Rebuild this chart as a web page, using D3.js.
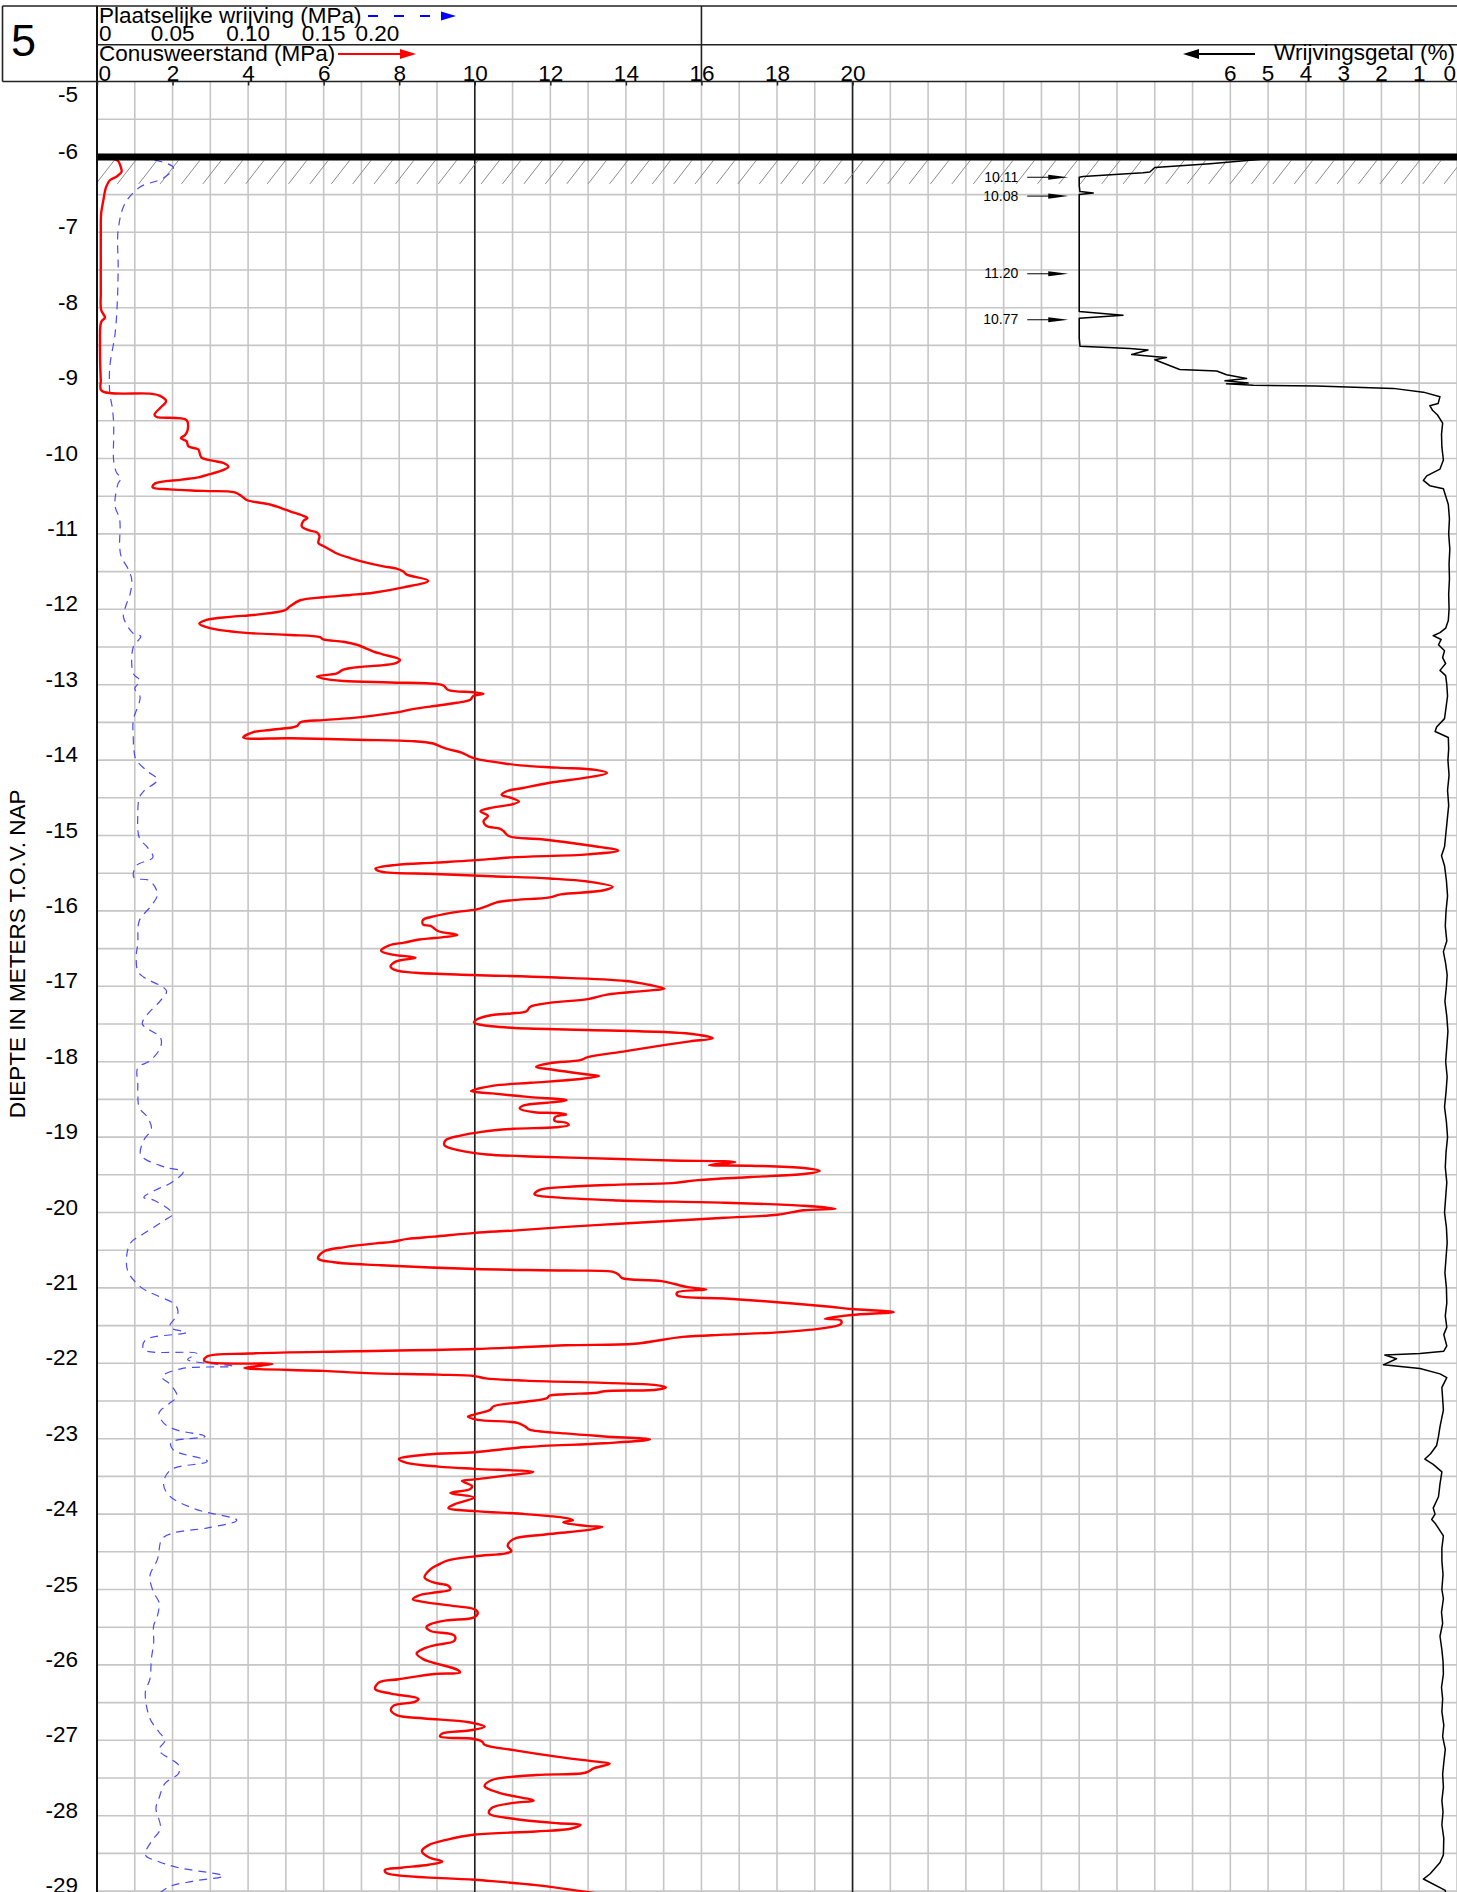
<!DOCTYPE html>
<html>
<head>
<meta charset="utf-8">
<script src="https://cdn.jsdelivr.net/npm/d3@7/dist/d3.min.js"></script>
<style>
  html, body { margin: 0; padding: 0; background: #fff; }
  svg { display: block; }
  text { font-family: "Liberation Sans", Arial, Helvetica, sans-serif; fill: #000; }
</style>
</head>
<body>
<svg id="chart" width="1457" height="1892"></svg>
<script>
// Sondering 5: conusweerstand, plaatselijke wrijving en wrijvingsgetal tegen diepte (m t.o.v. NAP)

const depthTicks = [-5, -6, -7, -8, -9, -10, -11, -12, -13, -14, -15, -16, -17, -18, -19, -20,
  -21, -22, -23, -24, -25, -26, -27, -28, -29];
const coneTicks = [0, 2, 4, 6, 8, 10, 12, 14, 16, 18, 20];
const frictionTicks = [0, 0.05, 0.10, 0.15, 0.20];
const ratioTicks = [6, 5, 4, 3, 2, 1, 0];

const groundLevel = -6.0;

// [diepte (m NAP), conusweerstand qc (MPa)]
const coneResistance = [
  [-6.00, 0.00], [-6.02, 0.40], [-6.05, 0.55], [-6.12, 0.62], [-6.20, 0.65], [-6.26, 0.52],
  [-6.31, 0.34], [-6.40, 0.24], [-6.57, 0.17], [-6.75, 0.11], [-7.00, 0.10], [-7.40, 0.10],
  [-7.80, 0.10], [-8.03, 0.11], [-8.13, 0.21], [-8.19, 0.11], [-8.50, 0.08], [-8.96, 0.10],
  [-9.10, 0.12], [-9.14, 1.40], [-9.17, 1.67], [-9.24, 1.83], [-9.33, 1.67], [-9.42, 1.52],
  [-9.45, 1.58], [-9.49, 2.37], [-9.62, 2.40], [-9.69, 2.33], [-9.73, 2.22], [-9.77, 2.37],
  [-9.84, 2.42], [-9.88, 2.68], [-9.95, 2.73], [-9.99, 2.77], [-10.04, 3.17], [-10.06, 3.35],
  [-10.11, 3.48], [-10.15, 3.35], [-10.22, 2.90], [-10.25, 2.68], [-10.28, 2.24], [-10.33, 1.54],
  [-10.38, 1.47], [-10.41, 1.93], [-10.43, 2.82], [-10.45, 3.65], [-10.50, 3.83], [-10.55, 3.96],
  [-10.61, 4.58], [-10.66, 4.89], [-10.70, 5.11], [-10.76, 5.46], [-10.79, 5.57], [-10.83, 5.46],
  [-10.90, 5.42], [-10.95, 5.60], [-10.98, 5.82], [-11.03, 5.89], [-11.12, 5.86], [-11.16, 5.99],
  [-11.21, 6.17], [-11.26, 6.35], [-11.32, 6.70], [-11.37, 7.05], [-11.43, 7.58], [-11.46, 7.93],
  [-11.50, 8.11], [-11.54, 8.20], [-11.62, 8.77], [-11.71, 8.11], [-11.78, 7.32], [-11.81, 6.70],
  [-11.84, 5.99], [-11.88, 5.38], [-11.96, 5.11], [-12.01, 4.98], [-12.07, 4.23], [-12.10, 3.52],
  [-12.14, 2.90], [-12.19, 2.71], [-12.25, 2.99], [-12.31, 3.87], [-12.34, 5.11], [-12.37, 5.90],
  [-12.40, 5.99], [-12.43, 6.52], [-12.47, 6.88], [-12.56, 7.32], [-12.60, 7.58], [-12.67, 8.02],
  [-12.71, 7.93], [-12.74, 7.58], [-12.76, 7.05], [-12.80, 6.52], [-12.85, 6.35], [-12.89, 5.82],
  [-12.92, 5.99], [-12.95, 6.52], [-12.97, 7.76], [-12.99, 8.99], [-13.01, 9.17], [-13.07, 9.30],
  [-13.10, 9.96], [-13.12, 10.23], [-13.15, 9.96], [-13.20, 9.88], [-13.24, 9.52], [-13.29, 8.82],
  [-13.33, 8.29], [-13.36, 8.02], [-13.41, 7.32], [-13.44, 6.79], [-13.47, 5.99], [-13.50, 5.38],
  [-13.55, 5.29], [-13.60, 4.58], [-13.63, 4.14], [-13.70, 3.87], [-13.71, 5.11], [-13.73, 6.88],
  [-13.75, 8.40], [-13.78, 8.90], [-13.82, 9.10], [-13.86, 9.34], [-13.90, 9.65], [-13.95, 9.85],
  [-13.99, 10.10], [-14.03, 10.60], [-14.07, 11.20], [-14.10, 12.20], [-14.13, 13.20], [-14.17, 13.50],
  [-14.23, 12.99], [-14.30, 11.98], [-14.37, 11.27], [-14.41, 10.86], [-14.46, 10.71], [-14.50, 10.96],
  [-14.55, 11.17], [-14.59, 10.96], [-14.63, 10.46], [-14.68, 10.15], [-14.74, 10.35], [-14.81, 10.23],
  [-14.87, 10.30], [-14.91, 10.66], [-14.94, 10.76], [-15.01, 10.91], [-15.05, 11.77], [-15.13, 12.99],
  [-15.20, 13.80], [-15.25, 12.99], [-15.29, 10.96], [-15.33, 9.95], [-15.36, 8.94], [-15.39, 7.92],
  [-15.44, 7.37], [-15.48, 7.52], [-15.51, 8.94], [-15.54, 10.46], [-15.57, 11.98], [-15.61, 12.99],
  [-15.68, 13.65], [-15.73, 13.39], [-15.78, 12.28], [-15.82, 11.98], [-15.86, 10.96], [-15.89, 10.56],
  [-15.93, 10.35], [-15.98, 10.05], [-16.02, 9.44], [-16.07, 8.94], [-16.12, 8.63], [-16.18, 8.63],
  [-16.20, 8.83], [-16.27, 9.04], [-16.32, 9.54], [-16.36, 8.94], [-16.38, 8.53], [-16.42, 8.13],
  [-16.46, 7.72], [-16.53, 7.52], [-16.58, 7.82], [-16.62, 8.43], [-16.67, 7.92], [-16.74, 7.77],
  [-16.79, 7.92], [-16.82, 8.43], [-16.85, 9.95], [-16.88, 11.98], [-16.93, 14.00], [-16.98, 14.61],
  [-17.03, 15.02], [-17.06, 14.51], [-17.11, 13.50], [-17.17, 12.99], [-17.22, 11.98], [-17.27, 11.47],
  [-17.33, 11.37], [-17.36, 10.96], [-17.38, 10.46], [-17.44, 10.05], [-17.48, 9.98], [-17.51, 10.15],
  [-17.55, 10.96], [-17.58, 12.99], [-17.63, 15.70], [-17.69, 16.30], [-17.73, 15.70], [-17.78, 15.00],
  [-17.86, 14.00], [-17.94, 12.99], [-17.98, 12.79], [-18.02, 11.98], [-18.07, 11.62], [-18.10, 11.98],
  [-18.17, 12.99], [-18.19, 13.29], [-18.23, 12.79], [-18.28, 11.47], [-18.32, 10.46], [-18.39, 9.90],
  [-18.42, 10.46], [-18.47, 11.47], [-18.51, 12.43], [-18.54, 12.00], [-18.58, 11.30], [-18.62, 11.19],
  [-18.67, 11.58], [-18.68, 12.14], [-18.70, 12.42], [-18.73, 12.14], [-18.78, 12.11], [-18.81, 12.42],
  [-18.84, 12.49], [-18.87, 12.14], [-18.89, 11.02], [-18.93, 10.18], [-18.98, 9.62], [-19.04, 9.23],
  [-19.11, 9.20], [-19.18, 9.62], [-19.23, 10.32], [-19.26, 11.72], [-19.29, 13.82], [-19.31, 15.22],
  [-19.33, 16.90], [-19.37, 16.20], [-19.38, 17.31], [-19.41, 18.71], [-19.45, 19.13], [-19.49, 18.71],
  [-19.53, 17.31], [-19.57, 15.92], [-19.61, 15.22], [-19.63, 13.82], [-19.66, 12.42], [-19.70, 11.72],
  [-19.76, 11.58], [-19.80, 12.14], [-19.84, 13.82], [-19.87, 16.62], [-19.91, 18.71], [-19.95, 19.55],
  [-19.97, 18.71], [-20.03, 18.01], [-20.07, 16.62], [-20.11, 15.22], [-20.15, 13.82], [-20.19, 12.42],
  [-20.24, 11.02], [-20.27, 10.00], [-20.32, 8.92], [-20.35, 8.22], [-20.39, 7.80], [-20.41, 7.38],
  [-20.46, 6.55], [-20.52, 5.99], [-20.61, 5.85], [-20.66, 6.27], [-20.70, 7.52], [-20.75, 10.00],
  [-20.77, 12.42], [-20.79, 13.68], [-20.83, 13.82], [-20.87, 13.90], [-20.91, 14.94], [-20.99, 15.64],
  [-21.02, 16.13], [-21.06, 15.36], [-21.10, 15.36], [-21.14, 16.62], [-21.19, 18.01], [-21.25, 19.41],
  [-21.28, 19.97], [-21.32, 21.09], [-21.36, 19.97], [-21.41, 19.27], [-21.43, 19.69], [-21.48, 19.69],
  [-21.54, 19.13], [-21.59, 18.01], [-21.62, 16.62], [-21.65, 15.50], [-21.74, 14.24], [-21.76, 12.42],
  [-21.81, 10.00], [-21.84, 6.83], [-21.87, 4.03], [-21.91, 2.91], [-21.97, 2.84], [-22.01, 4.65],
  [-22.06, 3.90], [-22.10, 6.00], [-22.13, 7.15], [-22.15, 9.04], [-22.17, 10.00], [-22.20, 10.29],
  [-22.23, 11.34], [-22.26, 13.43], [-22.29, 14.80], [-22.32, 15.06], [-22.35, 14.80], [-22.37, 13.43],
  [-22.39, 13.23], [-22.41, 12.39], [-22.43, 11.97], [-22.46, 11.92], [-22.51, 11.34], [-22.57, 10.50],
  [-22.62, 10.40], [-22.68, 9.98], [-22.71, 9.82], [-22.75, 10.08], [-22.79, 11.13], [-22.84, 11.34],
  [-22.88, 11.45], [-22.93, 12.39], [-22.97, 13.43], [-23.01, 14.64], [-23.06, 13.43], [-23.11, 11.34],
  [-23.18, 10.00], [-23.21, 8.72], [-23.27, 7.99], [-23.32, 8.20], [-23.37, 9.04], [-23.40, 10.00],
  [-23.44, 11.55], [-23.49, 10.82], [-23.54, 10.00], [-23.56, 9.66], [-23.63, 9.93], [-23.67, 9.87],
  [-23.72, 9.35], [-23.78, 9.98], [-23.87, 9.46], [-23.92, 9.30], [-23.96, 10.00], [-24.00, 11.34],
  [-24.05, 12.39], [-24.08, 12.60], [-24.11, 12.34], [-24.16, 13.02], [-24.17, 13.38], [-24.21, 13.02],
  [-24.27, 11.86], [-24.33, 11.03], [-24.42, 10.87], [-24.49, 10.97], [-24.52, 10.82], [-24.56, 10.00],
  [-24.62, 9.25], [-24.67, 9.04], [-24.73, 8.83], [-24.84, 8.67], [-24.91, 8.93], [-24.95, 9.30],
  [-25.00, 9.35], [-25.04, 8.93], [-25.08, 8.51], [-25.13, 8.36], [-25.17, 8.72], [-25.22, 9.46],
  [-25.26, 9.98], [-25.31, 10.08], [-25.37, 9.98], [-25.41, 9.25], [-25.46, 8.83], [-25.50, 8.72],
  [-25.55, 8.83], [-25.61, 9.46], [-25.68, 9.46], [-25.74, 8.93], [-25.79, 8.62], [-25.85, 8.46],
  [-25.92, 8.62], [-25.96, 8.83], [-26.07, 9.56], [-26.10, 9.61], [-26.12, 8.93], [-26.19, 7.99],
  [-26.23, 7.47], [-26.32, 7.36], [-26.38, 7.78], [-26.45, 8.51], [-26.49, 8.41], [-26.54, 7.85],
  [-26.60, 7.78], [-26.67, 7.95], [-26.71, 8.66], [-26.76, 9.85], [-26.82, 10.26], [-26.87, 9.85],
  [-26.91, 9.14], [-26.95, 9.08], [-26.98, 9.96], [-27.02, 10.20], [-27.06, 10.26], [-27.13, 11.03],
  [-27.22, 12.21], [-27.28, 13.16], [-27.31, 13.57], [-27.37, 13.16], [-27.43, 12.92], [-27.46, 11.62],
  [-27.53, 10.44], [-27.61, 10.26], [-27.70, 10.67], [-27.80, 11.56], [-27.83, 11.03], [-27.90, 10.44],
  [-27.97, 10.38], [-28.04, 11.03], [-28.10, 12.21], [-28.12, 12.80], [-28.17, 12.56], [-28.21, 11.62],
  [-28.25, 10.00], [-28.32, 9.25], [-28.39, 8.78], [-28.47, 8.60], [-28.55, 8.78], [-28.61, 9.14],
  [-28.65, 8.78], [-28.69, 8.07], [-28.72, 7.62], [-28.76, 7.66], [-28.85, 10.00], [-28.92, 11.62],
  [-29.05, 13.50]
];

// [diepte (m NAP), plaatselijke wrijving fs (MPa)]
const localFriction = [
  [-6.00, 0.029], [-6.14, 0.0505], [-6.28, 0.044], [-6.40, 0.0285], [-6.62, 0.0185], [-6.97, 0.014],
  [-7.46, 0.014], [-7.90, 0.0135], [-8.34, 0.012], [-8.78, 0.0085], [-9.14, 0.0085], [-9.31, 0.010],
  [-9.53, 0.011], [-9.75, 0.011], [-10.02, 0.011], [-10.19, 0.013], [-10.26, 0.016], [-10.33, 0.014],
  [-10.53, 0.012], [-10.64, 0.012], [-10.81, 0.015], [-11.17, 0.015], [-11.30, 0.016], [-11.48, 0.021],
  [-11.61, 0.023], [-11.79, 0.022], [-11.96, 0.019], [-12.10, 0.0175], [-12.32, 0.024], [-12.36, 0.029],
  [-12.50, 0.024], [-12.85, 0.024], [-12.95, 0.0285], [-13.05, 0.025], [-13.16, 0.0285], [-13.47, 0.024],
  [-13.70, 0.024], [-13.88, 0.0245], [-14.00, 0.026], [-14.15, 0.0335], [-14.26, 0.040], [-14.41, 0.031],
  [-14.50, 0.028], [-14.72, 0.027], [-15.03, 0.028], [-15.16, 0.0335], [-15.29, 0.037], [-15.40, 0.026],
  [-15.56, 0.0245], [-15.60, 0.035], [-15.78, 0.040], [-15.93, 0.036], [-16.13, 0.028], [-16.44, 0.027],
  [-16.58, 0.026], [-16.80, 0.027], [-16.88, 0.031], [-17.06, 0.046], [-17.19, 0.042], [-17.37, 0.0335],
  [-17.50, 0.030], [-17.68, 0.042], [-17.81, 0.042], [-17.99, 0.035], [-18.08, 0.027], [-18.30, 0.027],
  [-18.43, 0.027], [-18.61, 0.028], [-18.74, 0.0335], [-18.89, 0.036], [-19.04, 0.031], [-19.24, 0.029],
  [-19.40, 0.045], [-19.46, 0.057], [-19.62, 0.048], [-19.68, 0.041], [-19.80, 0.031], [-19.84, 0.038],
  [-20.02, 0.050], [-20.10, 0.045], [-20.28, 0.031], [-20.41, 0.022], [-20.75, 0.020], [-20.99, 0.029],
  [-21.23, 0.052], [-21.34, 0.0535], [-21.52, 0.048], [-21.59, 0.059], [-21.69, 0.032], [-21.82, 0.031],
  [-21.87, 0.066], [-21.95, 0.060], [-22.04, 0.090], [-22.07, 0.056], [-22.18, 0.043], [-22.29, 0.049],
  [-22.44, 0.053], [-22.53, 0.048], [-22.66, 0.041], [-22.79, 0.044], [-22.88, 0.052], [-22.97, 0.0715],
  [-23.05, 0.049], [-23.15, 0.0505], [-23.30, 0.073], [-23.41, 0.049], [-23.59, 0.044], [-23.76, 0.048],
  [-23.94, 0.066], [-24.08, 0.0925], [-24.18, 0.074], [-24.25, 0.0505], [-24.33, 0.043], [-24.60, 0.040],
  [-24.82, 0.035], [-25.04, 0.0375], [-25.17, 0.041], [-25.35, 0.040], [-25.48, 0.0375], [-25.70, 0.0375],
  [-25.92, 0.036], [-26.19, 0.035], [-26.36, 0.032], [-26.71, 0.035], [-26.89, 0.041], [-27.00, 0.045],
  [-27.13, 0.041], [-27.33, 0.054], [-27.44, 0.054], [-27.57, 0.045], [-27.77, 0.041], [-27.90, 0.039],
  [-28.17, 0.042], [-28.34, 0.036], [-28.52, 0.032], [-28.61, 0.041], [-28.69, 0.054], [-28.80, 0.0835],
  [-28.87, 0.063], [-28.94, 0.048], [-29.05, 0.040]
];

// [diepte (m NAP), wrijvingsgetal Rf (%)]
const frictionRatio = [
  [-6.02, 4.95], [-6.09, 6.54], [-6.14, 8.00], [-6.20, 8.13], [-6.21, 8.31], [-6.26, 9.90],
  [-6.27, 10.11], [-6.38, 10.05], [-6.46, 9.98], [-6.48, 9.63], [-6.50, 10.02], [-6.52, 10.08],
  [-7.00, 10.60], [-7.55, 11.20], [-8.00, 10.40], [-8.05, 10.05], [-8.10, 8.84], [-8.14, 10.10],
  [-8.16, 10.77], [-8.40, 10.30], [-8.51, 9.98], [-8.54, 8.66], [-8.56, 8.18], [-8.62, 8.61],
  [-8.65, 7.95], [-8.66, 7.69], [-8.69, 8.00], [-8.82, 7.34], [-8.84, 6.36], [-8.89, 6.10],
  [-8.94, 5.57], [-8.97, 6.14], [-9.00, 5.53], [-9.01, 6.10], [-9.03, 5.39], [-9.04, 3.72],
  [-9.07, 1.69], [-9.12, 0.89], [-9.18, 0.45], [-9.27, 0.50], [-9.30, 0.72], [-9.36, 0.65],
  [-9.42, 0.52], [-9.53, 0.38], [-9.68, 0.41], [-9.85, 0.40], [-10.02, 0.36], [-10.14, 0.45],
  [-10.23, 0.80], [-10.29, 0.89], [-10.36, 0.72], [-10.40, 0.36], [-10.61, 0.23], [-10.80, 0.20],
  [-11.00, 0.22], [-11.20, 0.19], [-11.40, 0.21], [-11.60, 0.20], [-11.80, 0.22], [-12.00, 0.21],
  [-12.15, 0.23], [-12.25, 0.30], [-12.31, 0.45], [-12.35, 0.63], [-12.40, 0.42], [-12.47, 0.49],
  [-12.55, 0.33], [-12.64, 0.38], [-12.72, 0.30], [-12.81, 0.45], [-12.88, 0.30], [-13.00, 0.27],
  [-13.15, 0.25], [-13.30, 0.29], [-13.45, 0.33], [-13.56, 0.54], [-13.62, 0.58], [-13.70, 0.23],
  [-13.85, 0.22], [-14.00, 0.24], [-14.20, 0.21], [-14.40, 0.25], [-14.60, 0.22], [-14.80, 0.26],
  [-15.00, 0.30], [-15.15, 0.33], [-15.27, 0.41], [-15.40, 0.33], [-15.60, 0.28], [-15.80, 0.25],
  [-16.00, 0.29], [-16.20, 0.31], [-16.40, 0.27], [-16.54, 0.36], [-16.70, 0.30], [-16.85, 0.26],
  [-17.00, 0.28], [-17.20, 0.32], [-17.40, 0.27], [-17.60, 0.24], [-17.80, 0.27], [-18.00, 0.30],
  [-18.20, 0.26], [-18.40, 0.29], [-18.60, 0.33], [-18.80, 0.28], [-19.00, 0.25], [-19.20, 0.29],
  [-19.40, 0.31], [-19.60, 0.27], [-19.80, 0.30], [-20.00, 0.33], [-20.20, 0.28], [-20.40, 0.26],
  [-20.60, 0.29], [-20.80, 0.32], [-21.00, 0.28], [-21.20, 0.27], [-21.37, 0.31], [-21.52, 0.27],
  [-21.62, 0.35], [-21.77, 0.27], [-21.84, 0.35], [-21.87, 0.98], [-21.89, 1.91], [-21.94, 1.60],
  [-22.02, 1.95], [-22.07, 0.98], [-22.14, 0.45], [-22.19, 0.27], [-22.32, 0.40], [-22.62, 0.36],
  [-22.84, 0.45], [-22.97, 0.49], [-23.09, 0.54], [-23.20, 0.70], [-23.27, 0.85], [-23.34, 0.63],
  [-23.44, 0.40], [-23.60, 0.45], [-23.77, 0.49], [-23.92, 0.63], [-24.00, 0.58], [-24.07, 0.67],
  [-24.12, 0.58], [-24.29, 0.36], [-24.45, 0.40], [-24.62, 0.40], [-24.80, 0.37], [-25.00, 0.40],
  [-25.12, 0.36], [-25.30, 0.41], [-25.45, 0.38], [-25.62, 0.45], [-25.80, 0.40], [-25.95, 0.37],
  [-26.12, 0.36], [-26.30, 0.41], [-26.45, 0.38], [-26.62, 0.40], [-26.80, 0.35], [-26.95, 0.38],
  [-27.12, 0.31], [-27.30, 0.35], [-27.45, 0.38], [-27.62, 0.36], [-27.80, 0.40], [-27.95, 0.37],
  [-28.12, 0.40], [-28.30, 0.35], [-28.52, 0.36], [-28.62, 0.45], [-28.77, 0.71], [-28.84, 0.89],
  [-28.99, 0.31], [-29.05, 0.30]
];

// Maxima above the 10 % plotting limit, written next to the clipped trace
const ratioPeakDepths = [-6.27, -6.52, -7.55, -8.16];
const ratioPeakValues = [10.11, 10.08, 11.20, 10.77];

const W = 1457, H = 1892;
const plotLeft = 97, plotTop = 81.5, plotRight = 1457;
const font = '"Liberation Sans", Arial, Helvetica, sans-serif';

const svg = d3.select("#chart");

// Scales
const x = d3.scaleLinear().domain([0, 36]).range([plotLeft, plotRight]);          // qc, MPa
const xFs = d3.scaleLinear().domain([0, 0.9]).range([plotLeft, plotRight]);       // fs, MPa
const xRf = d3.scaleLinear().domain([0, 10]).range([plotRight, plotRight - (x(10) - x(0))]).clamp(true); // Rf, %
const y = d3.scaleLinear().domain([-5, -29]).range([plotTop, plotTop + 24 * 75.4]);

svg.append("rect").attr("width", W).attr("height", H).attr("fill", "#fff");

svg.append("defs").append("clipPath").attr("id", "plotClip")
  .append("rect").attr("x", plotLeft).attr("y", plotTop)
  .attr("width", plotRight - plotLeft).attr("height", H - plotTop);

// Grid: 1 MPa vertically, 0.5 m horizontally
const grid = svg.append("g").attr("stroke", "#c6c6c6").attr("stroke-width", 1.6);
grid.selectAll("line.v").data(d3.range(1, 37)).join("line")
  .attr("x1", d => x(d)).attr("x2", d => x(d)).attr("y1", plotTop).attr("y2", H);
grid.selectAll("line.h").data(d3.range(-5.5, -29.01, -0.5)).join("line")
  .attr("x1", plotLeft).attr("x2", plotRight).attr("y1", d => y(d)).attr("y2", d => y(d));

// Heavy reference lines at 10 and 20 MPa
svg.append("g").selectAll("line").data([10, 20]).join("line")
  .attr("x1", d => x(d)).attr("x2", d => x(d)).attr("y1", plotTop).attr("y2", H)
  .attr("stroke", "#222").attr("stroke-width", 1.6);

// Hatching just below ground level
const hatchTop = y(groundLevel) + 3.5, hatchBottom = y(groundLevel) + 27;
svg.append("g").attr("clip-path", "url(#plotClip)")
  .selectAll("line").data(d3.range(plotLeft - 21.4 * 0.05, plotRight + 22, 21.4)).join("line")
  .attr("x1", d => d).attr("y1", hatchBottom)
  .attr("x2", d => d + 18.3).attr("y2", hatchTop)
  .attr("stroke", "#8a8a8a").attr("stroke-width", 1);

// Curves
const plot = svg.append("g").attr("clip-path", "url(#plotClip)");

const fsLine = d3.line().x(d => xFs(d[1])).y(d => y(d[0])).curve(d3.curveCatmullRom.alpha(0.5));
plot.append("path").datum(localFriction).attr("d", fsLine)
  .attr("fill", "none").attr("stroke", "#4b4bf0").attr("stroke-width", 1.2)
  .attr("stroke-dasharray", "8,6");

const qcLine = d3.line().x(d => x(d[1])).y(d => y(d[0])).curve(d3.curveCatmullRom.alpha(0.5));
plot.append("path").datum(coneResistance).attr("d", qcLine)
  .attr("fill", "none").attr("stroke", "#f00").attr("stroke-width", 2.4)
  .attr("stroke-linejoin", "round");

const rfLine = d3.line().x(d => xRf(d[1])).y(d => y(d[0]));
plot.append("path").datum(frictionRatio).attr("d", rfLine)
  .attr("fill", "none").attr("stroke", "#000").attr("stroke-width", 1.5)
  .attr("stroke-linejoin", "round");

// Ground level
svg.append("line").attr("x1", plotLeft).attr("x2", plotRight)
  .attr("y1", y(groundLevel)).attr("y2", y(groundLevel))
  .attr("stroke", "#000").attr("stroke-width", 7);

// Left axis line
svg.append("line").attr("x1", plotLeft).attr("x2", plotLeft).attr("y1", 6).attr("y2", H)
  .attr("stroke", "#111").attr("stroke-width", 2);

// Peak annotations for the clipped friction ratio
const notes = svg.append("g");
ratioPeakDepths.forEach((dep, i) => {
  const yy = y(dep);
  const tip = xRf(ratioPeakValues[i]) - 11;
  notes.append("line").attr("x1", tip - 41).attr("x2", tip - 18).attr("y1", yy).attr("y2", yy)
    .attr("stroke", "#000").attr("stroke-width", 1);
  notes.append("path")
    .attr("d", `M${tip},${yy} L${tip - 20},${yy - 2.6} L${tip - 20},${yy + 2.6} Z`)
    .attr("fill", "#000");
  notes.append("text").attr("x", tip - 50).attr("y", yy + 4.5)
    .attr("text-anchor", "end").attr("font-size", 14)
    .text(ratioPeakValues[i].toFixed(2));
});

// Depth labels
svg.append("g").selectAll("text").data(depthTicks).join("text")
  .attr("x", 78).attr("y", d => Math.max(y(d) + 2, plotTop + 20))
  .attr("text-anchor", "end").attr("font-size", 22.5)
  .text(d => d);

svg.append("text")
  .attr("transform", `translate(25,${y(-16.57)}) rotate(-90)`)
  .attr("text-anchor", "middle").attr("font-size", 22.5)
  .text("DIEPTE IN METERS T.O.V. NAP");

// Header frame
const head = svg.append("g").attr("stroke", "#222").attr("stroke-width", 1.6).attr("fill", "none");
head.append("line").attr("x1", 2.5).attr("x2", W).attr("y1", 6).attr("y2", 6);
head.append("line").attr("x1", 2.5).attr("x2", 2.5).attr("y1", 6).attr("y2", plotTop);
head.append("line").attr("x1", 2.5).attr("x2", W).attr("y1", plotTop).attr("y2", plotTop);
head.append("line").attr("x1", plotLeft).attr("x2", W).attr("y1", 44.7).attr("y2", 44.7);
head.append("line").attr("x1", x(16)).attr("x2", x(16)).attr("y1", 6).attr("y2", plotTop);

svg.append("text").attr("x", 11).attr("y", 56).attr("font-size", 45).text("5");

// Local friction caption and scale
svg.append("text").attr("x", 99).attr("y", 22.5).attr("font-size", 22.5)
  .text("Plaatselijke wrijving (MPa)");
svg.append("line").attr("x1", 363).attr("x2", 441).attr("y1", 16).attr("y2", 16)
  .attr("stroke", "#00f").attr("stroke-width", 1.8).attr("stroke-dasharray", "10,16")
  .attr("stroke-dashoffset", -5);
svg.append("path").attr("d", "M456,16 L441,11.5 L441,20.5 Z").attr("fill", "#00f");
svg.append("g").selectAll("text").data(frictionTicks).join("text")
  .attr("x", (d, i) => i === 0 ? xFs(d) + 2 : xFs(d))
  .attr("y", 40.5).attr("font-size", 22.5)
  .attr("text-anchor", (d, i) => i === 0 ? "start" : (i === frictionTicks.length - 1 ? "end" : "middle"))
  .text(d => d === 0 ? "0" : d.toFixed(2));

// Cone resistance caption and axis
svg.append("text").attr("x", 99).attr("y", 61).attr("font-size", 22.5)
  .text("Conusweerstand (MPa)");
svg.append("line").attr("x1", 338).attr("x2", 402).attr("y1", 54).attr("y2", 54)
  .attr("stroke", "#f00").attr("stroke-width", 2);
svg.append("path").attr("d", "M416,54 L400,49 L400,59 Z").attr("fill", "#f00");

const coneAxis = d3.axisTop(x).tickValues(coneTicks).tickSize(-4).tickPadding(1)
  .tickFormat(d => d);
const ca = svg.append("g").attr("transform", `translate(0,${plotTop})`).call(coneAxis);
ca.select(".domain").remove();
ca.selectAll("line").attr("stroke", "#222").attr("stroke-width", 1.5);
ca.selectAll("text").attr("font-size", 22.5).attr("font-family", font).attr("fill", "#000")
  .attr("dy", 0).attr("y", -1)
  .attr("text-anchor", d => d === 0 ? "start" : "middle")
  .attr("dx", d => d === 0 ? 1 : 0);

// Friction ratio caption and axis (reversed, 0 at the right edge)
svg.append("text").attr("x", 1455).attr("y", 60).attr("text-anchor", "end").attr("font-size", 22.5)
  .text("Wrijvingsgetal (%)");
svg.append("line").attr("x1", 1255).attr("x2", 1197).attr("y1", 54).attr("y2", 54)
  .attr("stroke", "#000").attr("stroke-width", 2);
svg.append("path").attr("d", "M1183,54 L1199,49 L1199,59 Z").attr("fill", "#000");
svg.append("g").selectAll("text").data(ratioTicks).join("text")
  .attr("x", d => d === 0 ? W - 1 : xRf(d))
  .attr("y", 80.5).attr("font-size", 22.5)
  .attr("text-anchor", d => d === 0 ? "end" : "middle")
  .text(d => d);
</script>
</body>
</html>
